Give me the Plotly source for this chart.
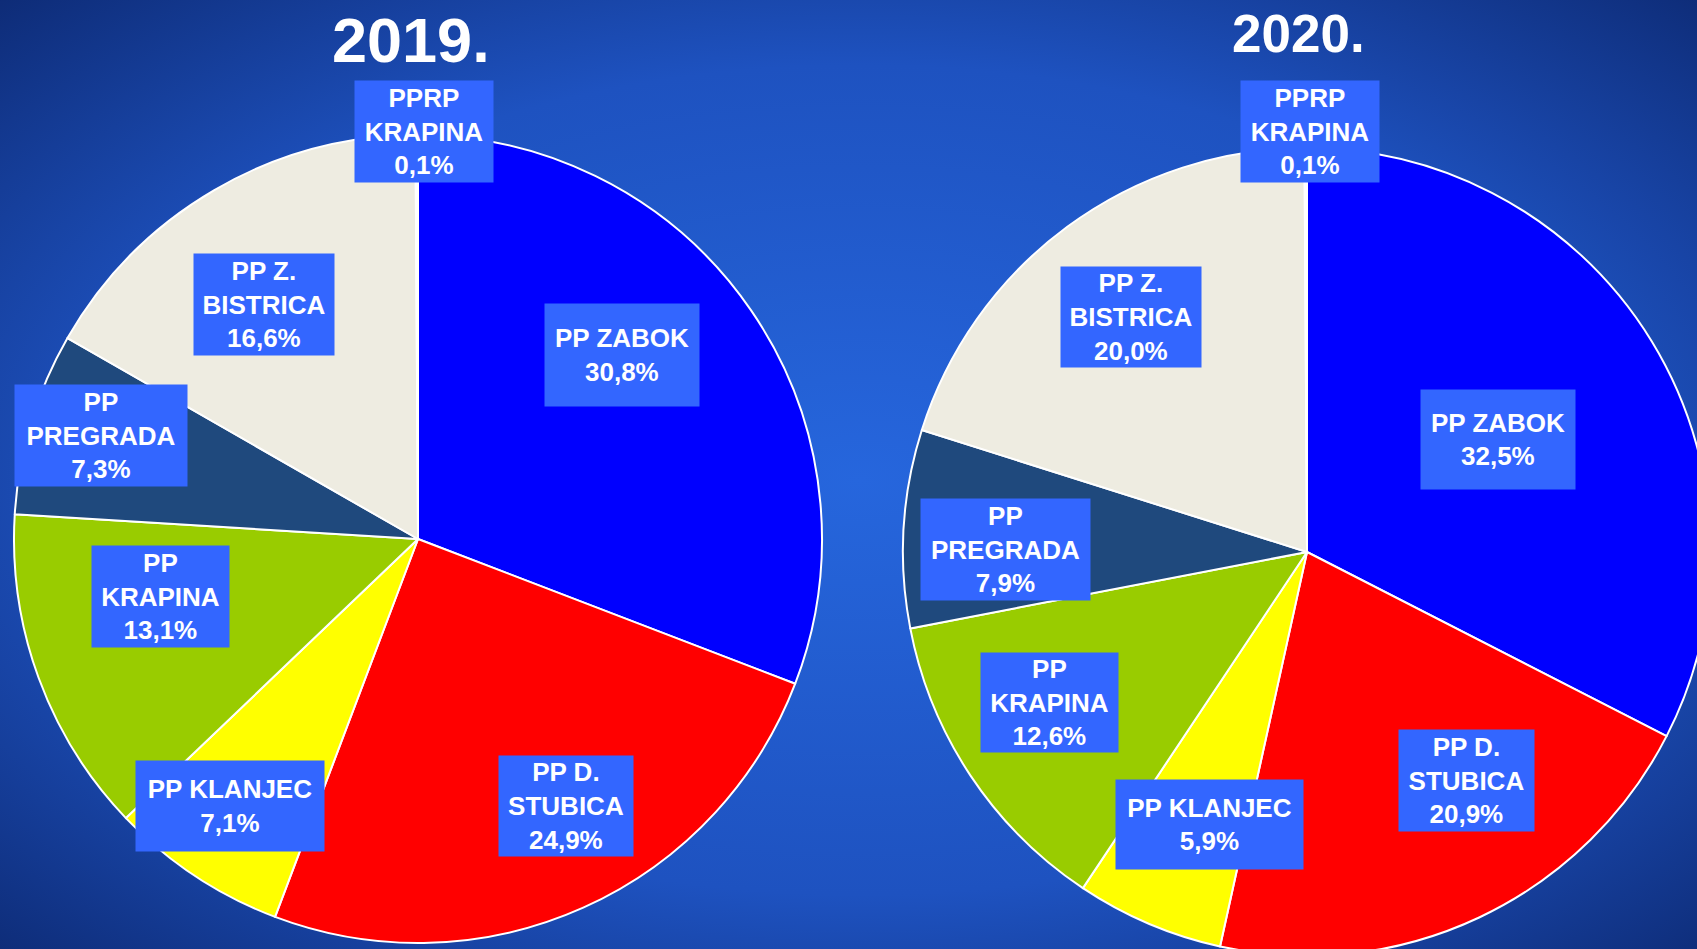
import base64
import plotly.graph_objects as go

# ---------------- data ----------------
categories = ["PP ZABOK", "PP D. STUBICA", "PP KLANJEC", "PP KRAPINA",
              "PP PREGRADA", "PP Z. BISTRICA", "PPRP KRAPINA"]
label_lines = ["PP ZABOK", "PP D.<br>STUBICA", "PP KLANJEC", "PP<br>KRAPINA",
               "PP<br>PREGRADA", "PP Z.<br>BISTRICA", "PPRP<br>KRAPINA"]
values_2019 = [30.8, 24.9, 7.1, 13.1, 7.3, 16.6, 0.1]
values_2020 = [32.5, 20.9, 5.9, 12.6, 7.9, 20.0, 0.1]
years = ["2019.", "2020."]

# ---------------- style / layout ----------------
colors = ["#0000ff", "#ff0000", "#ffff00", "#99cc00", "#1f497d", "#eeece1", "#ffffff"]
W, H = 1720, 960          # slightly larger than the window: right pie is cropped
FONT = "Liberation Sans, Arial, sans-serif"
BOX = "#3366ff"

# pie geometry in pixels: (center x, center y, radius)
pies = [(418, 539, 404), (1307, 552, 404)]
# label box centres (pixels) and sizes
label_pos = [
    [(622, 355), (566, 806), (230, 806), (160, 596), (101, 435), (264, 304), (424, 131)],
    [(1498, 440), (1466, 780), (1209, 824), (1049, 702), (1005, 549), (1131, 317), (1310, 132)],
]
label_size = [
    [(154, 102), (134, 100), (188, 90), (137, 101), (172, 101), (140, 101), (138, 101)],
    [(154, 99), (135, 101), (187, 89), (137, 99), (169, 101), (140, 100), (138, 101)],
]
title_pos = [(411, 40, 63), (1298, 34, 53)]


def px(x):
    return x / W


def py(y):
    return 1 - y / H


fig = go.Figure()
for vals, (cx, cy, r) in zip([values_2019, values_2020], pies):
    fig.add_trace(go.Pie(
        labels=categories, values=vals, sort=False, direction="clockwise",
        rotation=0, textinfo="none", hoverinfo="label+percent",
        marker=dict(colors=colors, line=dict(color="white", width=2)),
        domain=dict(x=[px(cx - r), px(cx + r)], y=[py(cy + r), py(cy - r)]),
        showlegend=False,
    ))

annotations = []
for k, vals in enumerate([values_2019, values_2020]):
    for i, v in enumerate(vals):
        pct = f"{v:.1f}".replace(".", ",") + "%"
        txt = f"{label_lines[i]}<br>{pct}"
        x, y = label_pos[k][i]
        w, h = label_size[k][i]
        annotations.append(dict(
            x=px(x), y=py(y), xref="paper", yref="paper", showarrow=False,
            text=f"<b>{txt}</b>", align="center", bgcolor=BOX, borderpad=0,
            width=w, height=h, xanchor="center", yanchor="middle",
            font=dict(family=FONT, size=26, color="white"),
        ))
for yr, (x, y, fs) in zip(years, title_pos):
    annotations.append(dict(
        x=px(x), y=py(y), xref="paper", yref="paper", showarrow=False,
        text=f"<b>{yr}</b>", xanchor="center", yanchor="middle",
        font=dict(family=FONT, size=fs, color="white"),
    ))

svg = (f'<svg xmlns="http://www.w3.org/2000/svg" width="{W}" height="{H}" '
       f'viewBox="0 0 {W} {H}" preserveAspectRatio="none"><defs>'
       '<radialGradient id="g" cx="50%" cy="50%" r="72%">'
       '<stop offset="0" stop-color="#2666dd"/>'
       '<stop offset="0.6" stop-color="#1e52c0"/>'
       '<stop offset="1" stop-color="#0d2a74"/>'
       '</radialGradient></defs>'
       '<rect width="100%" height="100%" fill="url(#g)"/></svg>')
src = "data:image/svg+xml;base64," + base64.b64encode(svg.encode()).decode()

fig.update_layout(
    width=W, height=H, margin=dict(l=0, r=0, t=0, b=0),
    paper_bgcolor="#1c4cb4", plot_bgcolor="rgba(0,0,0,0)",
    annotations=annotations,
    images=[dict(source=src, xref="paper", yref="paper", x=0, y=1,
                 sizex=1, sizey=1, sizing="stretch", layer="below",
                 xanchor="left", yanchor="top")],
)

fig.write_html(
    "out.html",
    config={"displayModeBar": False},
    post_script="document.body.style.margin='0';document.body.style.overflow='hidden';"
                "document.documentElement.style.overflow='hidden';",
)
